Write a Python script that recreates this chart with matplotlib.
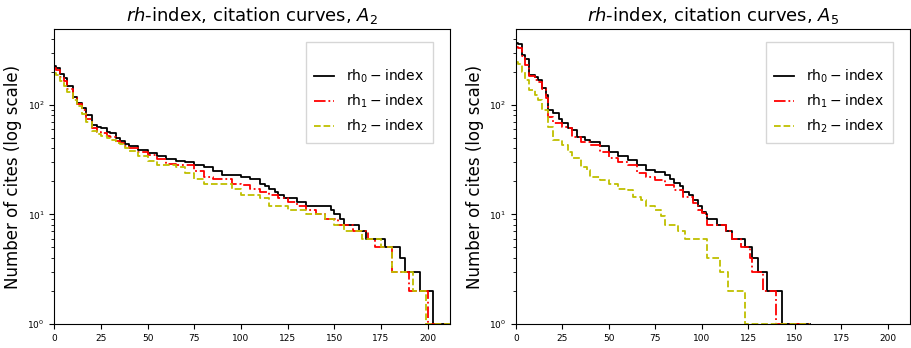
import numpy as np
import matplotlib
matplotlib.use("Agg")
import matplotlib.pyplot as plt

# citation curves: rank where a step starts, cites from there on
# panel A2
a2_rh0_rank = [0, 1, 3, 5, 7, 10, 12, 15, 17, 20, 23, 25, 28, 30, 33, 35, 38, 40, 45, 50, 55, 60, 65, 70, 75,
               80, 85, 90, 95, 100, 105, 110, 113, 115, 118, 120, 123, 125, 130, 135, 142, 148, 150, 153,
               155, 163, 167, 177, 185, 188, 196, 203, 212]
a2_rh0_val = [225, 219, 190, 175, 150, 119, 105, 93, 80, 66, 63, 61, 57, 55, 50, 47, 44, 42, 39, 36, 34, 32, 31,
              30, 28, 27, 25, 23, 23, 22, 21, 19, 18, 17, 16, 15, 14, 14, 13, 12, 12, 11, 10, 9, 8, 7, 6, 5, 4,
              3, 2, 1, 1]

a2_rh1_rank = [0, 1, 3, 5, 7, 10, 12, 15, 17, 20, 23, 25, 28, 30, 33, 35, 38, 40, 45, 50, 55, 60, 65, 70, 75,
               80, 85, 90, 95, 100, 105, 110, 115, 120, 125, 130, 135, 140, 145, 152, 160, 168, 172, 181,
               190, 200, 212]
a2_rh1_val = [215, 209, 180, 165, 140, 115, 102, 90, 75, 62, 57, 55, 52, 51, 47, 45, 42, 40, 37, 35, 32, 29, 28,
              28, 25, 22, 21, 21, 19, 18.6, 17, 16, 15, 14, 13, 12, 11, 10, 9, 8, 7, 6, 5, 3, 2, 1, 1]

a2_rh2_rank = [0, 1, 3, 5, 7, 10, 12, 15, 17, 20, 23, 25, 28, 30, 33, 35, 38, 40, 45, 50, 55, 65, 70, 75, 80,
               90, 95, 100, 110, 115, 125, 135, 145, 150, 155, 165, 175, 181, 192, 199, 212]
a2_rh2_val = [195, 188, 165, 150, 130, 110, 98, 83, 70, 58, 54, 52, 50, 48, 45, 44, 40, 38, 34, 31, 28, 27, 24,
              21, 19, 19, 17, 15, 14, 12, 11, 10, 9, 8, 7, 6, 5, 3, 2, 1, 1]

# panel A5
a5_rh0_rank = [0, 1, 3, 5, 7, 10, 12, 14, 16, 17, 20, 23, 25, 28, 30, 33, 37, 40, 45, 50, 55, 60, 65, 70, 75,
               80, 83, 85, 88, 90, 93, 95, 98, 100, 102, 103, 108, 113, 116, 123, 127, 130, 135, 143, 158]
a5_rh0_val = [370, 358, 286, 261, 188, 179, 170, 142, 123, 90, 84, 75, 68, 62, 59, 51, 48, 46, 42, 37.5, 34,
              31.5, 28, 25.5, 24.6, 23, 21, 19.3, 18, 16, 15, 13.5, 12, 10.6, 10, 9, 8, 7, 6, 5, 4, 3, 2, 1, 1]

a5_rh1_rank = [0, 1, 3, 5, 7, 10, 12, 14, 16, 17, 20, 25, 28, 30, 35, 40, 45, 50, 55, 60, 65, 70, 75, 80, 85,
               90, 95, 98, 100, 103, 113, 116, 121, 126, 127, 133, 140, 158]
a5_rh1_val = [340, 330, 280, 230, 185, 170, 160, 140, 115, 78, 68, 63, 61, 51, 46, 43, 37.5, 32.5, 30, 28, 23.8,
              22, 20.7, 18.6, 16.7, 14.5, 12.6, 11, 10.2, 8, 7, 6, 5, 4, 3, 2, 1, 1]

a5_rh2_rank = [0, 1, 3, 5, 7, 10, 12, 14, 17, 20, 25, 28, 30, 35, 38, 40, 45, 50, 55, 60, 63, 67, 70, 75, 78,
               80, 87, 91, 103, 110, 114, 123, 158]
a5_rh2_val = [245, 235, 200, 170, 137, 123, 111, 90, 63, 48, 43, 37, 32.5, 27, 25.5, 22, 20.7, 19, 17, 16.7,
              14.5, 13.5, 12, 11, 9.6, 8, 7, 6, 4, 3, 2, 1, 1]

legend_labels = [r"$\mathrm{rh}_0-\mathrm{index}$", r"$\mathrm{rh}_1-\mathrm{index}$",
                 r"$\mathrm{rh}_2-\mathrm{index}$"]
titles = [r"$rh$-index, citation curves, $A_2$", r"$rh$-index, citation curves, $A_5$"]

panels = [
    [(a2_rh0_rank, a2_rh0_val), (a2_rh1_rank, a2_rh1_val), (a2_rh2_rank, a2_rh2_val)],
    [(a5_rh0_rank, a5_rh0_val), (a5_rh1_rank, a5_rh1_val), (a5_rh2_rank, a5_rh2_val)],
]
styles = ["k-", "r-.", "y--"]

fig = plt.figure(figsize=(9.11, 3.48), dpi=100)
ax_boxes = [[0.0596, 0.069, 0.4344, 0.847], [0.5664, 0.069, 0.4325, 0.847]]

for i in range(2):
    ax = fig.add_axes(ax_boxes[i])
    for (rank, val), st, lab in zip(panels[i], styles, legend_labels):
        ax.plot(rank, val, st, drawstyle="steps-post", lw=1.3, label=lab)
    ax.set_yscale("log")
    ax.set_xlim(0, 212)
    ax.set_ylim(1, 490)
    ax.set_xticks([0, 25, 50, 75, 100, 125, 150, 175, 200])
    ax.tick_params(labelsize=6.5)
    ax.set_ylabel("Number of cites (log scale)", fontsize=12)
    ax.set_title(titles[i], fontsize=13)
    # blank legend title only to leave the extra room above the first entry
    ax.legend(loc="upper right", bbox_to_anchor=(0.956, 0.955), borderaxespad=0,
              fontsize=10, fancybox=False, borderpad=0.6, labelspacing=0.55,
              handlelength=1.4, handletextpad=0.9, title=" ", title_fontsize=6)

fig.savefig("out.png", dpi=100)
